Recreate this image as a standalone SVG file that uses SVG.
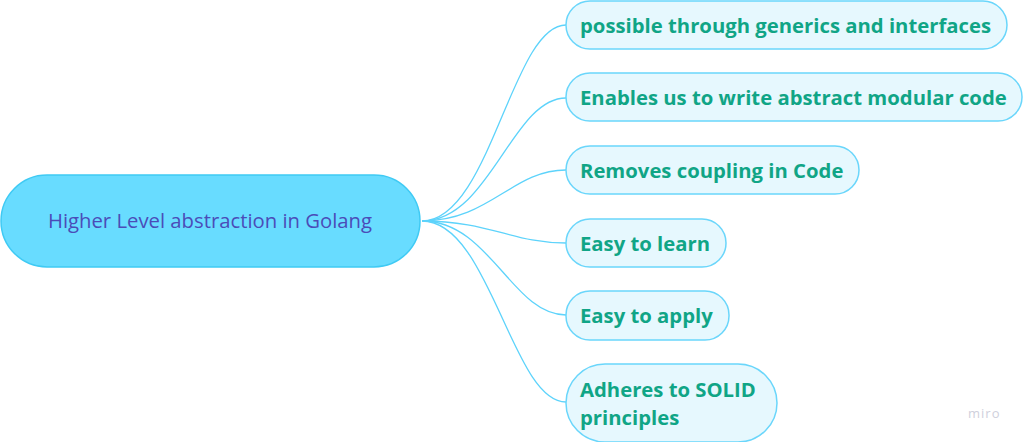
<svg xmlns="http://www.w3.org/2000/svg" width="1024" height="442" viewBox="0 0 1024 442">
<style>
.root{fill:#68dcff;stroke:#3fcaf4;stroke-width:1.5}
.child{fill:#e6f8fe;stroke:#6ad6fb;stroke-width:1.5}
.rt{font-family:"Open Sans","Noto Sans",sans-serif;font-size:20.3px;fill:#4b4cb8}
.ct{font-family:"Open Sans","Noto Sans",sans-serif;font-size:20.3px;font-weight:bold;fill:#10a586}
.edge{fill:none;stroke:#5dd3fb;stroke-width:1.3}
.wm{font-family:"Open Sans","Noto Sans",sans-serif;font-size:13px;fill:#cfd0dc;letter-spacing:1px}
</style>
<rect width="1024" height="442" fill="#ffffff"/>
<g id="connectors">
<path class="edge" d="M422,221 C490,221 512,25 566,25"/>
<path class="edge" d="M422,221 C490,221 512,98 566,98"/>
<path class="edge" d="M422,221 C490,221 512,170 566,170"/>
<path class="edge" d="M422,221 C490,221 512,243 566,243"/>
<path class="edge" d="M422,221 C490,221 512,315 566,315"/>
<path class="edge" d="M422,221 C490,221 512,402 566,402"/>
</g>
<g id="root">
<rect class="root" x="1" y="175" width="419" height="92" rx="46"/>
<text class="rt" x="210" y="228" text-anchor="middle">Higher Level abstraction in Golang</text>
</g>
<g id="n1">
<rect class="child" x="566" y="1" width="441" height="48" rx="24"/>
<text class="ct" x="580" y="33">possible through generics and interfaces</text>
</g>
<g id="n2">
<rect class="child" x="566" y="73" width="456" height="48" rx="24"/>
<text class="ct" x="580" y="105">Enables us to write abstract modular code</text>
</g>
<g id="n3">
<rect class="child" x="566" y="146" width="293" height="48" rx="24"/>
<text class="ct" x="580" y="178">Removes coupling in Code</text>
</g>
<g id="n4">
<rect class="child" x="566" y="219" width="160" height="48" rx="24"/>
<text class="ct" x="580" y="251">Easy to learn</text>
</g>
<g id="n5">
<rect class="child" x="566" y="291" width="163" height="49" rx="24"/>
<text class="ct" x="580" y="323">Easy to apply</text>
</g>
<g id="n6">
<rect class="child" x="566" y="364" width="211" height="78" rx="39"/>
<text class="ct" x="580" y="397">Adheres to SOLID</text>
<text class="ct" x="580" y="425">principles</text>
</g>
<text class="wm" x="968" y="418">miro</text>
</svg>
